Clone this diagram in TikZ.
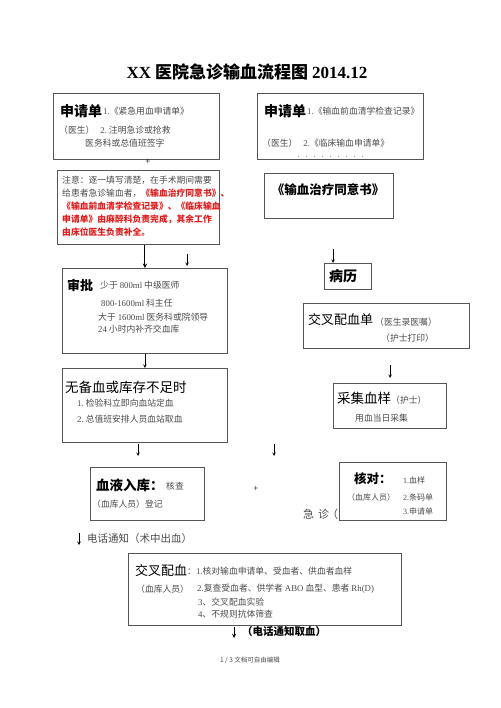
\documentclass[tikz,border=0pt]{standalone}
\usepackage{fontspec}
\setmainfont{Noto Sans CJK SC}
\newfontfamily\latin{Liberation Serif}
\newcommand{\latn}[1]{{\latin #1}}
\definecolor{notered}{RGB}{222,30,30}
\definecolor{boxline}{RGB}{85,85,85}
\definecolor{smalltext}{RGB}{75,75,75}

\begin{document}
\begin{tikzpicture}[x=1pt,y=-1pt]

\tikzstyle{box} = [draw=boxline, line width=0.8pt, fill=white, anchor=north west, inner sep=0pt]
\tikzstyle{head} = [anchor=west, inner sep=0pt, font=\fontsize{14}{16}\selectfont\bfseries]
\tikzstyle{headthin} = [anchor=west, inner sep=0pt, font=\fontsize{13.5}{16}\selectfont]
\tikzstyle{small} = [anchor=west, inner sep=0pt, text=smalltext, font=\fontsize{8.8}{10}\selectfont]
\tikzstyle{note} = [anchor=west, inner sep=0pt, text=notered, font=\fontsize{8.8}{10}\selectfont\bfseries]
\tikzstyle{arrow} = [-stealth, line width=0.6pt]

\useasboundingbox (0,0) rectangle (500,708);

% Title
\node (title) at (247,72) {\fontsize{17}{20}\selectfont\bfseries\latn{XX} 医院急诊输血流程图 \latn{2014.12}};

% Request forms
\node (req1) [box, minimum width=166pt, minimum height=66pt] at (53,93) {};
\node [head] at (60,111) {申请单};
\node [small] at (103,111) {\latn{1.}《紧急用血申请单》};
\node [small] at (59,130) {（医生）\hspace{6pt}\latn{2.}\ 注明急诊或抢救};
\node [small] at (85,143) {医务科或总值班签字};

\node (req2) [box, minimum width=166pt, minimum height=66pt] at (257,93) {};
\node [head] at (264,111) {申请单};
\node [small] at (307,111) {\latn{1.}《输血前血清学检查记录》};
\node [small] at (262,143) {（医生）\hspace{6pt}\latn{2.}《临床输血申请单》};
\draw [black!35, line width=0.6pt, dash pattern=on 1pt off 7pt] (298,156) -- (366,156);

\node (plus1) at (148,162) {\fontsize{9}{10}\selectfont\latn{+}};

% Note and consent
\node (note) [box, minimum width=162pt, minimum height=74pt] at (57,170) {};
\node [small] at (62,180) {注意：逐一填写清楚，在手术期间需要};
\node [small] at (62,193) {给患者急诊输血者，\textcolor{notered}{\bfseries《输血治疗同意书》、}};
\node [note] at (62,206) {《输血前血清学检查记录》、《临床输血};
\node [note] at (62,219) {申请单》由麻醉科负责完成，其余工作};
\node [note] at (62,232) {由床位医生负责补全。};

\node (consent) [box, minimum width=129pt, minimum height=45pt] at (264,173) {};
\node [head, anchor=center, font=\fontsize{12.5}{15}\selectfont\bfseries] at (328,190) {《输血治疗同意书》};

\coordinate (n1a) at (187,254);
\coordinate (n1b) at (187,266);
\draw [arrow] (n1a) -- (n1b);

% Record
\node (record) [box, minimum width=47pt, minimum height=26pt] at (324,263) {};
\node [head] at (329,276) {病历};
\coordinate (r1) at (333,249);
\draw [arrow] (r1) -- (r1 |- record.north);

% Approval
\node (approve) [box, minimum width=165pt, minimum height=85pt] at (62,268) {};
\node [head, font=\fontsize{13}{15}\selectfont\bfseries] at (67,285) {审批};
\node [small] at (100,285) {少于 \latn{800ml} 中级医师};
\node [small] at (101,303) {\latn{800-1600ml} 科主任};
\node [small] at (98,317) {大于 \latn{1600ml} 医务科或院领导};
\node [small] at (98,329) {\latn{24} 小时内补齐交血库};
\draw [arrow, line width=1pt] (note.south -| approve.north) -- (approve.north);

% Cross-match form and sample
\node (xform) [box, minimum width=166pt, minimum height=45pt] at (303,303) {};
\node [headthin, font=\fontsize{13}{15}\selectfont] at (308,320) {交叉配血单};
\node [small] at (375,322) {（医生录医嘱）};
\node [small] at (381,338) {（护士打印）};

\coordinate (x1a) at (390,365);
\coordinate (x1b) at (390,378);
\draw [arrow] (x1a) -- (x1b);

\node (sample) [box, minimum width=113pt, minimum height=45pt] at (333,383) {};
\node [headthin] at (337,398) {采集血样};
\node [small] at (391,400) {（护士）};
\node [small] at (355,418) {用血当日采集};

% Shortage
\node (shortage) [box, minimum width=165pt, minimum height=74pt] at (62,368) {};
\node [headthin] at (65,387) {无备血或库存不足时};
\node [small] at (77,403) {\latn{1.}\ 检验科立即向血站定血};
\node [small] at (77,419) {\latn{2.}\ 总值班安排人员血站取血};
\draw [arrow] (approve.south) -- (shortage.north);

\coordinate (s1a) at (138,444);
\coordinate (s1b) at (138,456);
\draw [arrow] (s1a) -- (s1b);
\coordinate (s2a) at (274,444);
\coordinate (s2b) at (274,456);
\draw [arrow] (s2a) -- (s2b);

% Storage and check
\node (store) [box, minimum width=114pt, minimum height=53pt] at (90,467) {};
\node [head, font=\fontsize{13.5}{16}\selectfont\bfseries] at (96,485) {血液入库：};
\node [small] at (166,486) {核查};
\node [small] at (92,504) {（血库人员）登记};

\node (plus2) at (256,489) {\fontsize{9}{10}\selectfont\latn{+}};

\node (urgent) [anchor=west, inner sep=0pt, text=smalltext, font=\fontsize{11}{12}\selectfont] at (303,514) {急\hspace{4pt}诊\hspace{-2pt}（};

\node (check) [box, minimum width=107pt, minimum height=58pt] at (339,462) {};
\node [head, font=\fontsize{12.5}{15}\selectfont\bfseries] at (354,479) {核对：};
\node [small, font=\fontsize{8}{10}\selectfont] at (403,480) {\latn{1.}血样};
\node [small, font=\fontsize{8}{10}\selectfont] at (347,497) {（血库人员）};
\node [small, font=\fontsize{8}{10}\selectfont] at (403,497) {\latn{2.}条码单};
\node [small, font=\fontsize{8}{10}\selectfont] at (403,511) {\latn{3.}申请单};

% Phone note
\coordinate (p1a) at (79,533);
\coordinate (p1b) at (79,545);
\draw [arrow] (p1a) -- (p1b);
\node (phone1) [anchor=west, inner sep=0pt, text=smalltext, font=\fontsize{10.5}{12}\selectfont] at (87,539) {电话通知（术中出血）};

% Cross-match
\node (xmatch) [box, minimum width=273pt, minimum height=72pt] at (128,553) {};
\node [headthin, font=\fontsize{13}{15}\selectfont] at (135,571) {交叉配血};
\node [small] at (187,571) {：\latn{1.}核对输血申请单、受血者、供血者血样};
\node [small] at (136,589) {（血库人员）};
\node [small] at (197,589) {\latn{2.}复查受血者、供学者 \latn{ABO} 血型、患者 \latn{Rh(D)}};
\node [small] at (198,602) {\latn{3}、交叉配血实验};
\node [small] at (198,614) {\latn{4}、不规则抗体筛查};

\coordinate (t1a) at (234,627);
\coordinate (t1b) at (234,638);
\draw [arrow, line width=0.9pt] (t1a) -- (t1b);
\node (phone2) [anchor=west, inner sep=0pt, font=\fontsize{10.5}{12}\selectfont\bfseries] at (242,632) {（电话通知取血）};

% Footer
\node (footer) [text=smalltext, font=\fontsize{6.5}{8}\selectfont] at (250,660) {1 / 3 文档可自由编辑};

\end{tikzpicture}
\end{document}
